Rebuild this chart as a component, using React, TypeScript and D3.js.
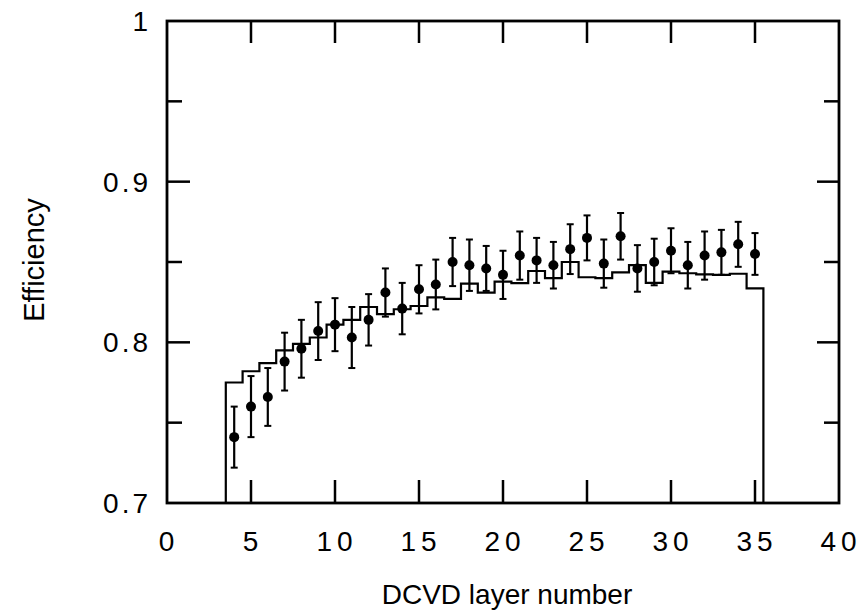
import React from "react";
import * as d3 from "d3";

// Layer numbers of the drift chamber vertex detector
const layers = [
  4, 5, 6, 7, 8, 9, 10, 11, 12, 13, 14, 15, 16, 17, 18, 19, 20, 21, 22, 23, 24,
  25, 26, 27, 28, 29, 30, 31, 32, 33, 34, 35,
];

// Measured efficiency per layer (points) and its uncertainty
const dataEff = [
  0.741, 0.76, 0.766, 0.788, 0.796, 0.807, 0.811, 0.803, 0.814, 0.831, 0.821,
  0.833, 0.836, 0.85, 0.848, 0.846, 0.842, 0.854, 0.851, 0.848, 0.858, 0.865,
  0.849, 0.866, 0.846, 0.85, 0.857, 0.848, 0.854, 0.856, 0.861, 0.855,
];
const dataErr = [
  0.019, 0.019, 0.018, 0.018, 0.018, 0.018, 0.0165, 0.019, 0.016, 0.015, 0.016,
  0.015, 0.0155, 0.015, 0.016, 0.014, 0.015, 0.015, 0.014, 0.0145, 0.0155,
  0.014, 0.015, 0.0145, 0.0145, 0.0145, 0.014, 0.0145, 0.015, 0.014, 0.014,
  0.013,
];

// Simulated efficiency per layer (histogram)
const mcEff = [
  0.775, 0.782, 0.787, 0.795, 0.799, 0.803, 0.811, 0.814, 0.822, 0.8176,
  0.8206, 0.8226, 0.828, 0.827, 0.8365, 0.831, 0.8378, 0.8368, 0.8444, 0.84,
  0.85, 0.8405, 0.84, 0.8435, 0.848, 0.837, 0.844, 0.843, 0.8423, 0.842,
  0.8427, 0.8336,
];

const xTicks = [5, 10, 15, 20, 25, 30, 35];
const xTickLabels = [0, 5, 10, 15, 20, 25, 30, 35, 40];
const yMajor = [0.8, 0.9];
const yMinor = [0.75, 0.85, 0.95];
const yTickLabels = [
  { v: 1, t: "1" },
  { v: 0.9, t: "0.9" },
  { v: 0.8, t: "0.8" },
  { v: 0.7, t: "0.7" },
];

const W = 864;
const H = 613;
const L = 167;
const R = 839;
const T = 21;
const B = 503;
const FONT = "'Liberation Sans', Arial, Helvetica, sans-serif";

export default function App() {
  const x = d3.scaleLinear().domain([0, 40]).range([L, R]);
  const y = d3.scaleLinear().domain([0.7, 1]).range([B, T]);

  // Step outline of the simulation, closed down to the baseline at both ends
  const p = d3.path();
  p.moveTo(x(layers[0] - 0.5), y(0.7));
  layers.forEach((n, i) => {
    p.lineTo(x(n - 0.5), y(mcEff[i]));
    p.lineTo(x(n + 0.5), y(mcEff[i]));
  });
  p.lineTo(x(layers[layers.length - 1] + 0.5), y(0.7));

  const cap = 3.5;

  return (
    <svg
      width={W}
      height={H}
      viewBox={`0 0 ${W} ${H}`}
      style={{ position: "absolute", left: 0, top: 0, background: "#fff" }}
    >
      <rect x={0} y={0} width={W} height={H} fill="#fff" />

      {/* simulation histogram */}
      <path d={p.toString()} fill="none" stroke="#000" strokeWidth={2.2} />

      {/* data points with error bars */}
      {layers.map((n, i) => {
        const cx = x(n);
        const y0 = y(dataEff[i] - dataErr[i]);
        const y1 = y(dataEff[i] + dataErr[i]);
        return (
          <g key={n}>
            <line x1={cx} x2={cx} y1={y0} y2={y1} stroke="#000" strokeWidth={2.2} />
            <line x1={cx - cap} x2={cx + cap} y1={y0} y2={y0} stroke="#000" strokeWidth={2} />
            <line x1={cx - cap} x2={cx + cap} y1={y1} y2={y1} stroke="#000" strokeWidth={2} />
            <circle cx={cx} cy={y(dataEff[i])} r={5} fill="#000" />
          </g>
        );
      })}

      {/* frame */}
      <rect x={L} y={T} width={R - L} height={B - T} fill="none" stroke="#000" strokeWidth={2.8} />

      {/* x ticks, bottom and top */}
      {xTicks.map((t) => (
        <g key={"xt" + t}>
          <line x1={x(t)} x2={x(t)} y1={B} y2={B - 23} stroke="#000" strokeWidth={2.5} />
          <line x1={x(t)} x2={x(t)} y1={T} y2={T + 22} stroke="#000" strokeWidth={2.5} />
        </g>
      ))}

      {/* y ticks, left and right */}
      {yMajor.map((v) => (
        <g key={"ym" + v}>
          <line x1={L} x2={L + 23} y1={y(v)} y2={y(v)} stroke="#000" strokeWidth={2.5} />
          <line x1={R} x2={R - 22} y1={y(v)} y2={y(v)} stroke="#000" strokeWidth={2.5} />
        </g>
      ))}
      {yMinor.map((v) => (
        <g key={"yn" + v}>
          <line x1={L} x2={L + 15} y1={y(v)} y2={y(v)} stroke="#000" strokeWidth={2.5} />
          <line x1={R} x2={R - 15} y1={y(v)} y2={y(v)} stroke="#000" strokeWidth={2.5} />
        </g>
      ))}

      {/* tick labels */}
      {xTickLabels.map((t) => (
        <text
          key={"xl" + t}
          x={x(t) + 2}
          y={551}
          textAnchor="middle"
          fontFamily={FONT}
          fontSize={28}
          letterSpacing={5}
          fill="#000"
        >
          {t}
        </text>
      ))}
      {yTickLabels.map((d) => (
        <text
          key={"yl" + d.t}
          x={151}
          y={y(d.v) + 10}
          textAnchor="end"
          fontFamily={FONT}
          fontSize={28}
          letterSpacing={3}
          fill="#000"
        >
          {d.t}
        </text>
      ))}

      {/* axis titles */}
      <text
        x={507}
        y={604}
        textAnchor="middle"
        fontFamily={FONT}
        fontSize={28}
        fill="#000"
      >
        DCVD layer number
      </text>
      <text
        transform={`translate(44, 260) rotate(-90)`}
        textAnchor="middle"
        fontFamily={FONT}
        fontSize={29}
        fill="#000"
      >
        Efficiency
      </text>
    </svg>
  );
}
